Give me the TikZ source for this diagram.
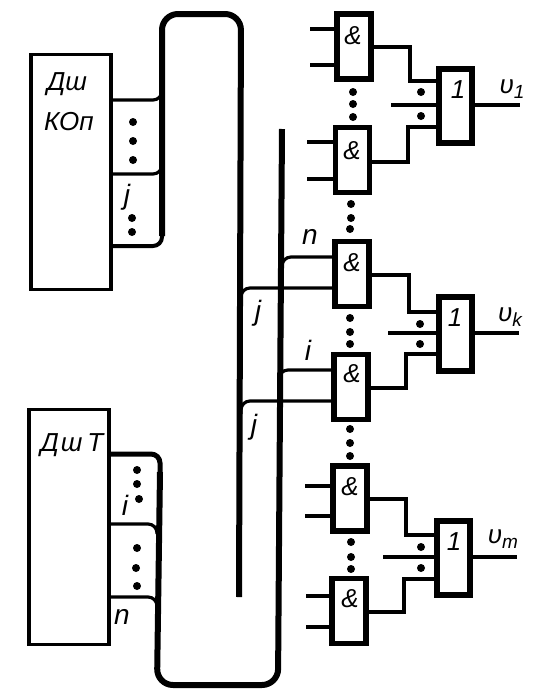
\documentclass[tikz,border=0pt]{standalone}
\usepackage{fontspec}
\setmainfont{Liberation Sans}
\newcommand{\vsub}[1]{υ\raisebox{-5pt}{\fontsize{19}{21}\selectfont #1}}
\begin{document}
\begin{tikzpicture}[
    x=1pt, y=-1pt,
    every node/.style={font=\itshape\fontsize{26}{28}\selectfont, inner sep=0pt, outer sep=0pt},
    dec/.style={rectangle, draw=black, line width=3.2pt, minimum width=80pt, minimum height=235pt},
    andgate/.style={rectangle, draw=black, line width=5.5pt, minimum width=34pt, minimum height=65pt},
    orgate/.style={rectangle, draw=black, line width=6pt, minimum width=33pt, minimum height=74pt},
    wire/.style={line width=3.2pt},
    tap/.style={line width=3.2pt, rounded corners=9pt},
    bus/.style={line width=6pt, rounded corners=16pt, line cap=butt},
    pt/.style={circle, fill=black, minimum size=8pt},
    smalltxt/.style={font=\itshape\fontsize{28}{30}\selectfont}
]
\useasboundingbox (0,0) rectangle (544,699);

% decoders
\node[dec] (kop) at (71,172) {};
\node[dec] (dst) at (69,527) {};
\node (kopa) at (67,84) {Дш};
\node (kopb) at (69,122) {КОп};
\node (dsta) at (72,445) {Д\kern2ptш\kern5ptТ};

% buses
\coordinate (upstart) at (162,236);
\coordinate (upa) at (162,14);
\coordinate (upb) at (241,14);
\coordinate (upend) at (239,597);
\coordinate (lostart) at (160,472);
\coordinate (loa) at (157,685);
\coordinate (lob) at (278,685);
\coordinate (loend) at (282,129);
\draw[bus] (upstart) -- (upa) -- (upb) -- (upend);
\draw[bus] (lostart) -- (loa) -- (lob) -- (loend);

% and gates
\node[andgate] (ga) at (354,46.5) {};
\node[andgate] (gb) at (352.5,160) {};
\node[andgate] (gc) at (352,274) {};
\node[andgate] (gd) at (351,387) {};
\node[andgate] (ge) at (350,498.5) {};
\node[andgate] (gf) at (349,611) {};
\node (ta) at (353,36) {\&};
\node (tb) at (352,151) {\&};
\node (tc) at (352,263) {\&};
\node (td) at (352,374) {\&};
\node (te) at (350,487) {\&};
\node (tf) at (350,599) {\&};

% or gates
\node[orgate] (oa) at (455,105.5) {};
\node[orgate] (ob) at (455,334) {};
\node[orgate] (oc) at (453.5,558) {};
\node (ua) at (458,90) {1};
\node (ub) at (455,318) {1};
\node (uc) at (454,542) {1};

% taps of the decoders
\coordinate (ka) at (162,90);
\coordinate (kb) at (162,163);
\coordinate (kc) at (162,232);
\draw[tap] (kop.east |- 0,100) -| (ka);
\draw[tap] (kop.east |- 0,174) -| (kb);
\draw[tap, line width=4pt] (kop.east |- 0,246) -| (kc);
\coordinate (da) at (160,474);
\coordinate (db) at (157,534);
\coordinate (dc) at (157,612);
\draw[tap, line width=5pt] (dst.east |- 0,454) -| (da);
\draw[tap] (dst.east |- 0,524) -| (db);
\draw[tap] (dst.east |- 0,597) -| (dc);

% taps of the buses
\coordinate (ca) at (241,302);
\coordinate (cb) at (282,272);
\coordinate (cc) at (279,384);
\coordinate (cd) at (241,414);
\draw[tap] (ca) |- (gc.west |- 0,288);
\draw[tap] (cb) |- (gc.west |- 0,257);
\draw[tap] (cc) |- (gd.west |- 0,370);
\draw[tap] (cd) |- (gd.west |- 0,401);

% free inputs of the and gates
\coordinate (ia) at (310,29);
\coordinate (ib) at (310,65);
\coordinate (ic) at (307,142);
\coordinate (id) at (307,179);
\coordinate (ie) at (305,486);
\coordinate (if) at (305,516);
\coordinate (ig) at (306,596);
\coordinate (ih) at (306,627);
\draw[wire] (ia) -- (ga.west |- ia);
\draw[wire] (ib) -- (ga.west |- ib);
\draw[wire] (ic) -- (gb.west |- ic);
\draw[wire] (id) -- (gb.west |- id);
\draw[wire] (ie) -- (ge.west |- ie);
\draw[wire] (if) -- (ge.west |- if);
\draw[wire] (ig) -- (gf.west |- ig);
\draw[wire] (ih) -- (gf.west |- ih);

% and gates to or gates
\draw[wire] (ga.east |- 0,47) -- (410,47) |- (oa.west |- 0,81);
\draw[wire] (gb.east |- 0,162) -- (408,162) |- (oa.west |- 0,127);
\draw[wire] (gc.east |- 0,275) -- (409,275) |- (ob.west |- 0,312);
\draw[wire] (gd.east |- 0,388) -- (406,388) |- (ob.west |- 0,354);
\draw[wire] (ge.east |- 0,499) -- (406,499) |- (oc.west |- 0,535);
\draw[wire] (gf.east |- 0,612) -- (404,612) |- (oc.west |- 0,579);

% middle inputs and outputs of the or gates
\coordinate (ma) at (391,105);
\coordinate (mb) at (388,333);
\coordinate (mc) at (383,557);
\coordinate (ea) at (520,105);
\coordinate (eb) at (519,333);
\coordinate (ec) at (517,557);
\draw[wire] (ma) -- (oa.west |- ma);
\draw[wire] (mb) -- (ob.west |- mb);
\draw[wire] (mc) -- (oc.west |- mc);
\draw[wire] (oa.east |- ea) -- (ea);
\draw[wire] (ob.east |- eb) -- (eb);
\draw[wire] (oc.east |- ec) -- (ec);

% dots
\foreach \px/\py [count=\k] in {133/122, 133/141, 133/160, 132/218, 132/232,
    137/470, 137/484, 139/499, 137/548, 136/568, 137/586,
    353/92, 353/104, 353/117, 351/204, 351/218, 350/229,
    350/318, 350/332, 350/344, 350/429, 350/443, 350/456,
    351/542, 351/557, 351/569,
    421/92, 421/116, 420/324, 420/344, 421/547, 421/568}
    \node[pt] (dot\k) at (\px,\py) {};

% labels
\node[smalltxt] (lj) at (127,197) {j};
\node[smalltxt] (li) at (125,505) {i};
\node[smalltxt] (ln) at (122,617) {n};
\node[smalltxt] (lja) at (258,313) {j};
\node[smalltxt] (ljb) at (254,427) {j};
\node[smalltxt] (lna) at (310,237) {n};
\node[smalltxt] (lia) at (308,350) {i};
\node (va) at (512,89) {\vsub{1}};
\node (vb) at (510,317) {\vsub{k}};
\node (vc) at (503,539) {\vsub{m}};
\end{tikzpicture}
\end{document}
